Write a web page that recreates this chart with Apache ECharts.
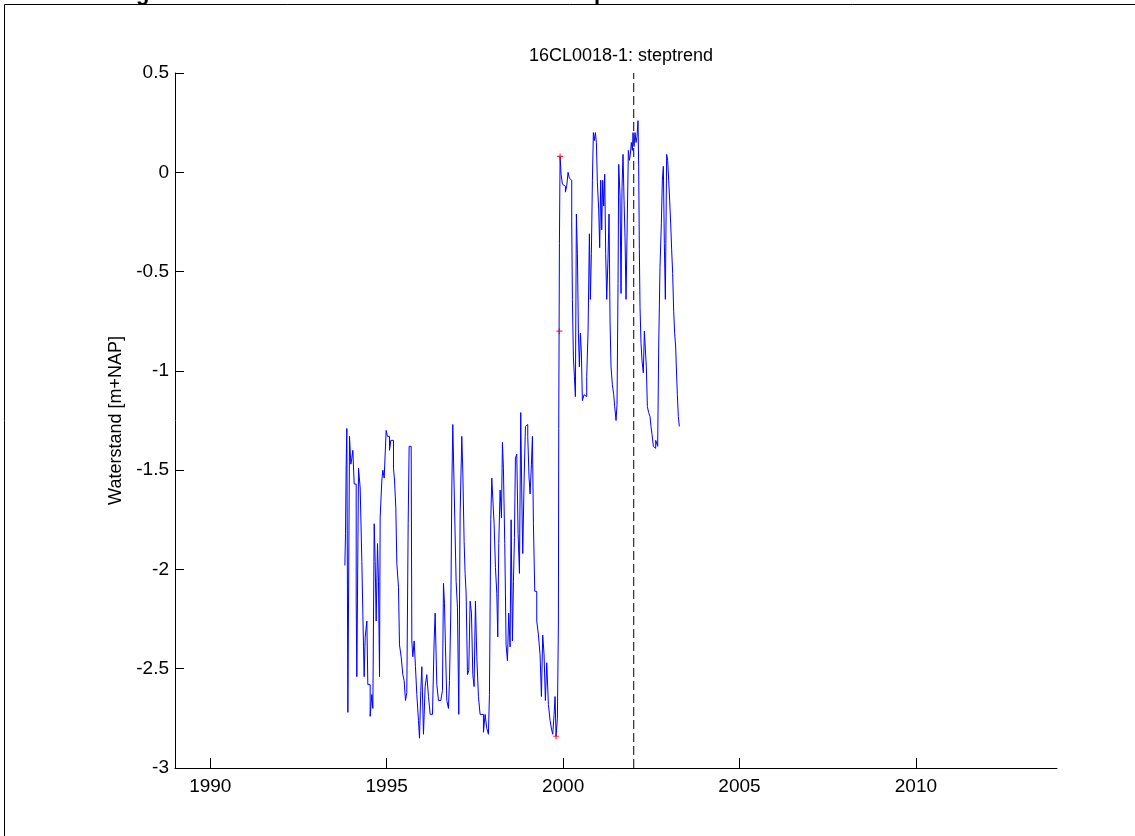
<!DOCTYPE html>
<html>
<head>
<meta charset="utf-8">
<script src="https://cdn.jsdelivr.net/npm/echarts@6/dist/echarts.min.js"></script>
<style>
html,body{margin:0;padding:0;background:#fff;}
#chart{width:1135px;height:836px;}
</style>
</head>
<body>
<div id="chart"></div>
<script>
const titleText = '16CL0018-1: steptrend';
const yAxisName = 'Waterstand [m+NAP]';
const xTickLabels = [1990, 1995, 2000, 2005, 2010];
const yTickLabels = [-3, -2.5, -2, -1.5, -1, -0.5, 0, 0.5];
const stepYear = 2002;

const years = [
1993.815,1993.833,1993.852,1993.871,1993.900,1993.947,1993.984,1994.013,1994.041,1994.079,
1994.136,1994.154,1994.202,1994.249,1994.296,1994.343,1994.362,1994.391,1994.438,1994.466,
1994.532,1994.579,1994.608,1994.646,1994.674,1994.702,1994.740,1994.768,1994.797,1994.815,
1994.863,1994.891,1994.929,1994.985,1995.023,1995.080,1995.118,1995.155,1995.193,1995.222,
1995.259,1995.288,1995.335,1995.363,1995.410,1995.458,1995.495,1995.533,1995.571,1995.609,
1995.637,1995.694,1995.713,1995.741,1995.779,1995.816,1995.854,1995.901,1995.930,1995.967,
1995.996,1996.043,1996.090,1996.137,1996.185,1996.232,1996.298,1996.345,1996.374,1996.421,
1996.468,1996.534,1996.581,1996.610,1996.638,1996.666,1996.704,1996.751,1996.780,1996.817,
1996.846,1996.874,1996.912,1996.968,1997.006,1997.044,1997.082,1997.129,1997.157,1997.195,
1997.223,1997.252,1997.290,1997.327,1997.365,1997.403,1997.441,1997.478,1997.516,1997.554,
1997.601,1997.648,1997.696,1997.743,1997.790,1997.837,1997.884,1997.913,1997.951,1997.979,
1998.007,1998.045,1998.083,1998.121,1998.149,1998.177,1998.215,1998.253,1998.281,1998.309,
1998.347,1998.385,1998.423,1998.460,1998.498,1998.527,1998.564,1998.593,1998.621,1998.649,
1998.687,1998.725,1998.763,1998.800,1998.829,1998.857,1998.895,1998.933,1998.970,1998.999,
1999.036,1999.065,1999.103,1999.131,1999.159,1999.197,1999.254,1999.301,1999.348,1999.386,
1999.423,1999.461,1999.499,1999.537,1999.584,1999.631,1999.678,1999.707,1999.745,1999.773,
1999.801,1999.839,1999.867,
1999.877,1999.896,1999.915,
1999.943,1999.981,2000.028,2000.066,2000.103,2000.141,2000.179,2000.217,2000.245,2000.264,
2000.292,2000.321,2000.349,2000.377,2000.406,2000.434,2000.462,2000.491,2000.519,2000.547,
2000.595,2000.642,2000.670,2000.708,2000.746,2000.774,2000.802,2000.831,2000.859,2000.887,
2000.916,2000.944,2000.972,2001.010,2001.038,2001.067,2001.095,2001.123,2001.152,2001.180,
2001.208,2001.237,2001.274,2001.303,2001.331,2001.359,2001.397,2001.435,2001.463,2001.501,
2001.529,2001.558,2001.577,2001.614,2001.643,2001.671,2001.699,2001.728,2001.756,2001.784,
2001.822,2001.850,2001.879,2001.907,2001.935,2001.964,2001.983,2002.011,2002.039,2002.068,
2002.096,2002.124,2002.143,2002.162,2002.181,2002.209,2002.238,2002.275,2002.304,2002.332,
2002.360,2002.389,2002.426,2002.464,2002.492,2002.521,2002.559,2002.596,2002.625,2002.653,
2002.681,2002.710,2002.747,2002.785,2002.814,2002.842,2002.870,2002.899,2002.917,2002.936,
2002.965,2002.993,2003.021,2003.050,2003.078,2003.106,2003.135,2003.163,2003.191,2003.210,
2003.239,2003.267,2003.295
];

const levels = [
-1.98,-1.82,-1.47,-1.29,-2.72,-1.33,-1.47,-1.44,-1.40,-1.57,
-2.16,-2.54,-1.49,-1.59,-1.96,-2.39,-2.54,-2.34,-2.26,-2.58,
-2.74,-2.63,-2.70,-1.77,-1.96,-2.26,-1.87,-2.06,-2.54,-1.74,
-1.55,-1.50,-1.54,-1.30,-1.33,-1.40,-1.35,-1.35,-1.49,-1.55,
-1.69,-1.97,-2.09,-2.38,-2.44,-2.53,-2.56,-2.66,-2.62,-1.77,
-1.38,-1.38,-2.36,-2.44,-2.36,-2.49,-2.63,-2.76,-2.85,-2.61,
-2.49,-2.83,-2.59,-2.53,-2.64,-2.73,-2.73,-2.36,-2.22,-2.58,
-2.66,-2.66,-2.61,-2.07,-2.17,-2.39,-2.66,-2.70,-2.56,-2.22,
-1.60,-1.27,-1.59,-2.06,-2.19,-2.73,-1.72,-1.33,-1.50,-1.86,
-2.02,-2.12,-2.53,-2.51,-2.16,-2.22,-2.53,-2.59,-2.16,-2.44,
-2.64,-2.73,-2.73,-2.82,-2.73,-2.80,-2.83,-2.63,-1.75,-1.54,
-1.64,-1.77,-1.99,-2.12,-2.34,-1.87,-1.60,-1.74,-1.36,-1.49,
-1.87,-2.38,-2.46,-2.22,-2.39,-1.75,-2.36,-2.06,-1.84,-1.44,
-1.42,-1.82,-2.02,-1.21,-1.62,-1.92,-1.55,-1.28,-1.27,-1.33,
-1.54,-1.62,-1.47,-1.33,-1.77,-2.11,-2.26,-2.33,-2.43,-2.64,
-2.33,-2.43,-2.66,-2.47,-2.68,-2.76,-2.81,-2.83,-2.73,-2.64,
-2.84,-2.75,-2.28,
-1.29,-0.36,0.08,
-0.01,-0.06,-0.07,-0.10,-0.07,0.00,-0.03,-0.04,-0.25,-0.64,
-0.93,-1.03,-1.13,-0.21,-0.41,-0.81,-0.98,-0.81,-0.91,-1.15,
-1.12,-1.13,-1.03,-0.80,-0.31,-0.64,-0.41,-0.04,0.20,0.16,
0.20,0.15,-0.05,-0.19,-0.38,-0.04,-0.29,-0.04,-0.17,-0.01,
-0.41,-0.64,-0.43,-0.21,-0.75,-0.98,-1.07,-1.12,-1.18,-1.25,
-1.17,-0.56,0.04,-0.12,-0.61,-0.07,0.09,-0.14,-0.33,-0.64,
-0.21,0.11,0.06,0.09,0.15,0.11,0.20,0.13,0.20,0.15,
0.18,0.26,0.03,-0.39,-0.68,-0.86,-0.95,-1.01,-0.80,-0.81,
-0.98,-1.18,-1.21,-1.23,-1.28,-1.32,-1.38,-1.39,-1.35,-1.35,
-1.38,-0.88,-0.48,-0.26,-0.04,0.03,-0.36,-0.64,-0.27,0.09,
0.06,-0.04,-0.14,-0.26,-0.39,-0.51,-0.70,-0.81,-0.88,-0.98,
-1.12,-1.23,-1.28
];

const markerYears = [1999.801, 1999.895, 1999.915];
const markerLevels = [-2.84, -0.80, 0.08];

const FONT = '"Liberation Sans", Arial, Helvetica, sans-serif';
const chart = echarts.init(document.getElementById('chart'), null, {renderer: 'canvas'});

const lineData = years.map((y, i) => [y, levels[i]]);
const markerData = markerYears.map((y, i) => [y, markerLevels[i]]);

chart.setOption({
  animation: false,
  backgroundColor: '#ffffff',
  title: {
    text: titleText,
    left: 616,
    textAlign: 'center',
    top: 42,
    textStyle: {fontFamily: FONT, fontSize: 18, fontWeight: 'normal', color: '#000'}
  },
  grid: {left: 175, right: 78, top: 73, bottom: 68, containLabel: false},
  xAxis: {
    type: 'value',
    min: 1989,
    max: 2014,
    splitLine: {show: false},
    axisLine: {show: true, onZero: false, lineStyle: {color: '#000', width: 1}},
    axisTick: {show: true, inside: true, length: 10, customValues: xTickLabels, lineStyle: {color: '#000'}},
    axisLabel: {customValues: xTickLabels, fontFamily: FONT, fontSize: 19, color: '#000', margin: 9,
      formatter: v => String(Math.round(v))}
  },
  yAxis: {
    type: 'value',
    min: -3,
    max: 0.5,
    interval: 0.5,
    name: yAxisName,
    nameLocation: 'middle',
    nameGap: 48,
    nameTextStyle: {fontFamily: FONT, fontSize: 18, color: '#000'},
    splitLine: {show: false},
    axisLine: {show: true, onZero: false, lineStyle: {color: '#000', width: 1}},
    axisTick: {show: true, inside: true, length: 9, lineStyle: {color: '#000'}},
    axisLabel: {fontFamily: FONT, fontSize: 19, color: '#000', margin: 6,
      formatter: v => String(v)}
  },
  series: [
    {
      type: 'line',
      data: lineData,
      step: 'end',
      showSymbol: false,
      symbol: 'none',
      lineStyle: {color: '#0000ff', width: 1},
      z: 2
    },
    {
      type: 'line',
      data: [[stepYear, -3], [stepYear, 0.5]],
      showSymbol: false,
      symbol: 'none',
      lineStyle: {color: '#3a3a3a', width: 1.3, type: [9, 4]},
      z: 3
    },
    {
      type: 'scatter',
      data: markerData,
      symbol: 'path://M4,0 L6,0 L6,4 L10,4 L10,6 L6,6 L6,10 L4,10 L4,6 L0,6 L0,4 L4,4 Z',
      symbolSize: 6,
      itemStyle: {color: '#ff0000'},
      z: 4
    }
  ],
  graphic: [
    {type: 'line', shape: {x1: 4.5, y1: 4.5, x2: 1135, y2: 4.5}, style: {stroke: '#000', lineWidth: 1}},
    {type: 'line', shape: {x1: 4.5, y1: 4.5, x2: 4.5, y2: 836}, style: {stroke: '#000', lineWidth: 1}},
    {type: 'text', left: 136, top: -17, style: {text: 'g', font: 'bold 22px ' + FONT, fill: '#000'}},
    {type: 'text', left: 594, top: -17, style: {text: 'p', font: 'bold 22px ' + FONT, fill: '#000'}}
  ]
});
</script>
</body>
</html>
